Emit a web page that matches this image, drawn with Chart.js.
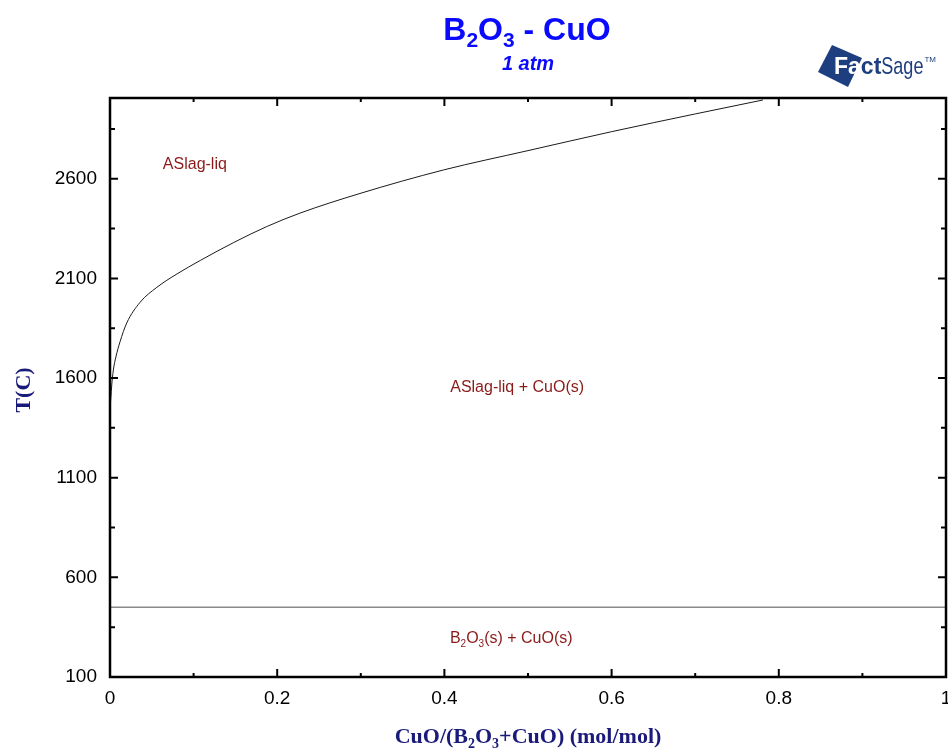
<!DOCTYPE html>
<html>
<head>
<meta charset="utf-8">
<script src="https://cdn.jsdelivr.net/npm/chart.js@4/dist/chart.umd.min.js"></script>
<style>
html,body{margin:0;padding:0;background:#fff;}
#wrap{width:948px;height:748px;position:relative;}
</style>
</head>
<body>
<div id="wrap"><canvas id="c" width="948" height="748"></canvas></div>
<script>
// ---- data ----
const liquidusX = [0, 0.002, 0.004, 0.007, 0.012, 0.02, 0.036, 0.056, 0.08, 0.108, 0.148, 0.187, 0.227, 0.299, 0.399, 0.5, 0.6, 0.7, 0.781];
const liquidusT = [1440, 1560, 1640, 1705, 1782, 1876, 1980, 2055, 2122, 2190, 2280, 2359, 2427, 2526, 2644, 2741, 2836, 2925, 2995];
const eutecticX = [0, 1];
const eutecticT = [450, 450];
const xTicks = [0, 0.2, 0.4, 0.6, 0.8, 1];
const xMinorTicks = [0.1, 0.3, 0.5, 0.7, 0.9];
const yTicks = [100, 600, 1100, 1600, 2100, 2600];
const yMinorTicks = [350, 850, 1350, 1850, 2350, 2850];
const regionLabels = [
  {x: 0.1015, y: 2677, parts: [["ASlag-liq", 0]]},
  {x: 0.487, y: 1560, parts: [["ASlag-liq + CuO(s)", 0]]},
  {x: 0.48, y: 303, parts: [["B", 0], ["2", 1], ["O", 0], ["3", 1], ["(s) + CuO(s)", 0]]}
];
// ---- end data ----

const SANS = '"Liberation Sans", Arial, sans-serif';
const SERIF = '"Liberation Serif", "Times New Roman", serif';

function richWidth(ctx, parts, size, weight, style, family) {
  let w = 0;
  for (const [t, sub] of parts) {
    ctx.font = `${style} ${weight} ${sub ? Math.round(size * 0.65) : size}px ${family}`;
    w += ctx.measureText(t).width;
  }
  return w;
}
function drawRich(ctx, parts, cx, baseline, size, weight, style, family, color, subDrop) {
  const w = richWidth(ctx, parts, size, weight, style, family);
  let x = cx - w / 2;
  ctx.fillStyle = color;
  ctx.textAlign = 'left';
  ctx.textBaseline = 'alphabetic';
  for (const [t, sub] of parts) {
    ctx.font = `${style} ${weight} ${sub ? Math.round(size * 0.65) : size}px ${family}`;
    ctx.fillText(t, x, baseline + (sub ? subDrop : 0));
    x += ctx.measureText(t).width;
  }
}

const decor = {
  id: 'decor',
  afterDatasetsDraw(chart) {
    const ctx = chart.ctx;
    const a = chart.chartArea;
    const xs = chart.scales.x, ys = chart.scales.y;
    ctx.save();
    // frame
    ctx.strokeStyle = '#000';
    ctx.lineWidth = 2.5;
    ctx.strokeRect(a.left, a.top, a.right - a.left, a.bottom - a.top);
    // ticks
    ctx.lineWidth = 2;
    ctx.beginPath();
    const xt = (vals, len) => vals.forEach(v => {
      const px = xs.getPixelForValue(v);
      ctx.moveTo(px, a.bottom); ctx.lineTo(px, a.bottom - len);
      ctx.moveTo(px, a.top); ctx.lineTo(px, a.top + len);
    });
    const yt = (vals, len) => vals.forEach(v => {
      const py = ys.getPixelForValue(v);
      ctx.moveTo(a.left, py); ctx.lineTo(a.left + len, py);
      ctx.moveTo(a.right, py); ctx.lineTo(a.right - len, py);
    });
    xt(xTicks, 8); xt(xMinorTicks, 4);
    yt(yTicks, 8); yt(yMinorTicks, 5);
    ctx.stroke();

    // region labels
    regionLabels.forEach(l => {
      const px = xs.getPixelForValue(l.x), py = ys.getPixelForValue(l.y);
      drawRich(ctx, l.parts, px, py + 6, 16, 'normal', 'normal', SANS, '#8b1a1a', 4);
    });

    // title
    drawRich(ctx, [["B", 0], ["2", 1], ["O", 0], ["3", 1], [" - CuO", 0]], 527, 40, 32, 'bold', 'normal', SANS, '#0a0aff', 7);
    drawRich(ctx, [["1 atm", 0]], 528, 70, 20, 'bold', 'italic', SANS, '#0a0aff', 0);

    // axis titles
    drawRich(ctx, [["CuO/(B", 0], ["2", 1], ["O", 0], ["3", 1], ["+CuO) (mol/mol)", 0]], 528, 743, 22, 'bold', 'normal', SERIF, '#1a1a7a', 5);
    ctx.save();
    ctx.translate(30, 390);
    ctx.rotate(-Math.PI / 2);
    drawRich(ctx, [["T(C)", 0]], 0, 0, 22, 'bold', 'normal', SERIF, '#1a1a7a', 0);
    ctx.restore();

    // FactSage logo
    ctx.fillStyle = '#1d3f80';
    ctx.beginPath();
    ctx.moveTo(832, 45); ctx.lineTo(818, 72); ctx.lineTo(848, 87); ctx.lineTo(862, 58);
    ctx.closePath(); ctx.fill();
    ctx.textBaseline = 'alphabetic'; ctx.textAlign = 'left';
    ctx.font = `bold 23px ${SANS}`;
    ctx.fillStyle = '#ffffff';
    ctx.fillText('F', 834, 74);
    let fx = 834 + ctx.measureText('F').width;
    ctx.fillText('a', fx, 74);
    fx += ctx.measureText('a').width;
    ctx.fillStyle = '#1d3f80';
    ctx.fillText('ct', fx, 74);
    fx += ctx.measureText('ct').width;
    ctx.save();
    ctx.translate(fx, 74);
    ctx.scale(0.82, 1.1);
    ctx.font = `normal 22px ${SANS}`;
    ctx.fillText('Sage', 0, 0);
    const sw = ctx.measureText('Sage').width * 0.82;
    ctx.restore();
    ctx.font = `normal 8px ${SANS}`;
    ctx.fillStyle = '#1d3f80';
    ctx.fillText('TM', fx + sw + 1, 62);
    ctx.restore();
  }
};

new Chart(document.getElementById('c'), {
  type: 'scatter',
  data: {
    datasets: [
      {
        data: liquidusX.map((x, i) => ({x, y: liquidusT[i]})),
        showLine: true, borderColor: '#1a1a1a', borderWidth: 1, pointRadius: 0,
        cubicInterpolationMode: 'monotone'
      },
      {
        data: eutecticX.map((x, i) => ({x, y: eutecticT[i]})),
        showLine: true, borderColor: '#8a8a8a', borderWidth: 1.5, pointRadius: 0
      }
    ]
  },
  options: {
    responsive: false,
    animation: false,
    devicePixelRatio: 1,
    layout: {padding: {left: 0, right: 2, top: 98, bottom: 0}},
    plugins: {legend: {display: false}, tooltip: {enabled: false}, title: {display: false}},
    scales: {
      x: {
        type: 'linear', min: 0, max: 1,
        afterBuildTicks: s => { s.ticks = xTicks.map(v => ({value: v})); },
        afterFit: s => { s.height = 71; s.paddingLeft = 0; s.paddingRight = 0; },
        grid: {display: false, drawTicks: false},
        border: {display: false},
        ticks: {padding: 10, color: '#000', font: {family: SANS, size: 19}, maxRotation: 0,
                callback: v => String(Math.round(v * 10) / 10)}
      },
      y: {
        type: 'linear', min: 100, max: 3005,
        afterBuildTicks: s => { s.ticks = yTicks.map(v => ({value: v})); },
        afterFit: s => { s.width = 110; s.paddingTop = 0; s.paddingBottom = 0; },
        grid: {display: false, drawTicks: false},
        border: {display: false},
        ticks: {padding: 13, color: '#000', font: {family: SANS, size: 19}, callback: v => String(v)}
      }
    }
  },
  plugins: [decor]
});
</script>
</body>
</html>
